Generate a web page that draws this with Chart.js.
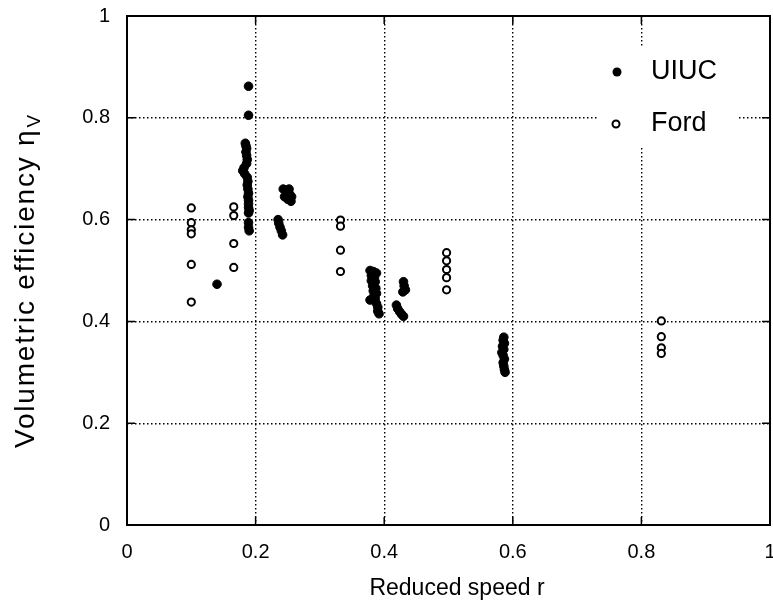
<!DOCTYPE html>
<html>
<head>
<meta charset="utf-8">
<script src="https://cdn.jsdelivr.net/npm/chart.js@4"></script>
<style>
  body { margin: 0; background: #fff; }
  canvas { display: block; }
</style>
</head>
<body>
<canvas id="myChart" width="773" height="615"></canvas>
<script>
const xTicks = [0, 0.2, 0.4, 0.6, 0.8, 1];
const yTicks = [0, 0.2, 0.4, 0.6, 0.8, 1];

// UIUC measurements (filled dots)
const uiucR = [
  0.189, 0.189,
  0.184, 0.185, 0.186, 0.185, 0.186, 0.187, 0.186, 0.182, 0.180, 0.183, 0.187, 0.188,
  0.187, 0.188, 0.189, 0.188, 0.189, 0.189, 0.189, 0.190, 0.189,
  0.189, 0.189, 0.190,
  0.243, 0.248, 0.253, 0.256, 0.250, 0.245, 0.252, 0.255,
  0.235, 0.236, 0.238, 0.240, 0.242,
  0.140,
  0.378, 0.383, 0.388, 0.380, 0.385, 0.380, 0.386, 0.382, 0.387, 0.383, 0.388, 0.384,
  0.378, 0.386, 0.388, 0.390, 0.390, 0.392,
  0.430, 0.431, 0.433, 0.429,
  0.419, 0.421, 0.424, 0.427, 0.430,
  0.586, 0.585, 0.587, 0.584, 0.586, 0.583, 0.585, 0.587, 0.585, 0.586, 0.587, 0.588
];
const uiucEta = [
  0.862, 0.805,
  0.750, 0.745, 0.740, 0.733, 0.726, 0.718, 0.710, 0.702, 0.696, 0.690, 0.683, 0.675,
  0.668, 0.660, 0.652, 0.645, 0.638, 0.631, 0.624, 0.618, 0.613,
  0.594, 0.585, 0.578,
  0.660, 0.655, 0.650, 0.645, 0.640, 0.645, 0.660, 0.636,
  0.600, 0.593, 0.585, 0.578, 0.570,
  0.473,
  0.500, 0.498, 0.495, 0.490, 0.487, 0.480, 0.478, 0.470, 0.465, 0.460, 0.455, 0.450,
  0.442, 0.445, 0.435, 0.428, 0.420, 0.415,
  0.478, 0.470, 0.462, 0.458,
  0.432, 0.425, 0.419, 0.414, 0.410,
  0.369, 0.363, 0.357, 0.351, 0.345, 0.339, 0.333, 0.326, 0.319, 0.312, 0.305, 0.300
];

// Ford measurements (open circles)
const fordR = [
  0.100, 0.100, 0.100, 0.100, 0.100, 0.100,
  0.166, 0.166, 0.166, 0.166,
  0.332, 0.332, 0.332, 0.332,
  0.497, 0.497, 0.497, 0.497, 0.497,
  0.831, 0.831, 0.831, 0.831
];
const fordEta = [
  0.623, 0.594, 0.580, 0.572, 0.512, 0.438,
  0.625, 0.608, 0.553, 0.506,
  0.599, 0.587, 0.540, 0.498,
  0.535, 0.519, 0.502, 0.486, 0.462,
  0.401, 0.370, 0.348, 0.337
];

const font = '"Liberation Sans", Arial, sans-serif';
const toPoints = (xs, ys) => xs.map((x, i) => ({ x: x, y: ys[i] }));
const gridColor = (c) => (c.tick.value === 0 || c.tick.value === 1 ? 'rgba(0,0,0,0)' : '#000');
const fmt = (v) => String(Math.round(v * 10) / 10);

const framePlugin = {
  id: 'frame',
  afterDatasetsDraw(chart) {
    const { ctx, chartArea: a, scales } = chart;
    ctx.save();
    // inward tick marks
    ctx.strokeStyle = '#000';
    ctx.lineWidth = 1.5;
    ctx.beginPath();
    xTicks.slice(1, -1).forEach((v) => {
      const px = scales.x.getPixelForValue(v);
      ctx.moveTo(px, a.bottom); ctx.lineTo(px, a.bottom - 8);
      ctx.moveTo(px, a.top); ctx.lineTo(px, a.top + 8);
    });
    yTicks.slice(1, -1).forEach((v) => {
      const py = scales.y.getPixelForValue(v);
      ctx.moveTo(a.left, py); ctx.lineTo(a.left + 8, py);
      ctx.moveTo(a.right, py); ctx.lineTo(a.right - 8, py);
    });
    ctx.stroke();

    // legend box inside plot
    ctx.fillStyle = '#fff';
    ctx.fillRect(598, 48, 140, 100);
    ctx.fillStyle = '#000';
    ctx.beginPath();
    ctx.arc(617, 72, 4.5, 0, Math.PI * 2);
    ctx.fill();
    ctx.lineWidth = 2;
    ctx.beginPath();
    ctx.arc(616, 124, 3.5, 0, Math.PI * 2);
    ctx.stroke();
    ctx.font = '27px ' + font;
    ctx.textBaseline = 'middle';
    ctx.textAlign = 'left';
    ctx.fillText('UIUC', 651, 72);
    ctx.fillText('Ford', 651, 124);

    // frame
    ctx.lineWidth = 2;
    ctx.strokeRect(a.left, a.top, a.right - a.left, a.bottom - a.top);

    // axis titles
    ctx.textBaseline = 'alphabetic';
    ctx.textAlign = 'center';
    ctx.font = '23px ' + font;
    ctx.fillText('Reduced speed r', 457, 595);

    ctx.translate(34, 448);
    ctx.rotate(-Math.PI / 2);
    ctx.textAlign = 'left';
    ctx.font = '28px ' + font;
    ctx.letterSpacing = '1.8px';
    const main = 'Volumetric efficiency \u03b7';
    ctx.fillText(main, 0, 0);
    const w = ctx.measureText(main).width;
    ctx.font = '19px ' + font;
    ctx.fillText('V', w + 1, 6);
    ctx.restore();
  }
};

const ctx = document.getElementById('myChart');

new Chart(ctx, {
  type: 'scatter',
  plugins: [framePlugin],
  data: {
    datasets: [
      {
        label: 'UIUC',
        data: toPoints(uiucR, uiucEta),
        backgroundColor: '#000',
        borderColor: '#000',
        borderWidth: 1,
        pointRadius: 4.3,
      },
      {
        label: 'Ford',
        data: toPoints(fordR, fordEta),
        backgroundColor: '#fff',
        borderColor: '#000',
        borderWidth: 2,
        pointRadius: 3.6,
      },
    ],
  },
  options: {
    responsive: false,
    animation: false,
    layout: { autoPadding: false, padding: { left: 0, right: 3, top: 16, bottom: 0 } },
    plugins: {
      legend: { display: false },
      tooltip: { enabled: false },
    },
    scales: {
      x: {
        type: 'linear',
        min: 0,
        max: 1,
        afterFit: (s) => {
          s.height = 90;
          s.paddingLeft = 0;
          s.paddingRight = 0;
        },
        afterBuildTicks: (s) => { s.ticks = xTicks.map((v) => ({ value: v })); },
        ticks: {
          callback: fmt,
          color: '#000',
          padding: 15,
          maxRotation: 0,
          font: { family: font, size: 20 },
        },
        grid: {
          color: gridColor,
          lineWidth: 1.4,
          drawTicks: false,
        },
        border: { display: false, dash: [1.5, 2.5] },
      },
      y: {
        type: 'linear',
        min: 0,
        max: 1,
        afterFit: (s) => {
          s.width = 127;
          s.paddingTop = 0;
          s.paddingBottom = 0;
        },
        afterBuildTicks: (s) => { s.ticks = yTicks.map((v) => ({ value: v })); },
        ticks: {
          callback: fmt,
          color: '#000',
          padding: 17,
          font: { family: font, size: 20 },
        },
        grid: {
          color: gridColor,
          lineWidth: 1.4,
          drawTicks: false,
        },
        border: { display: false, dash: [1.5, 2.5] },
      },
    },
  },
});
</script>
</body>
</html>
